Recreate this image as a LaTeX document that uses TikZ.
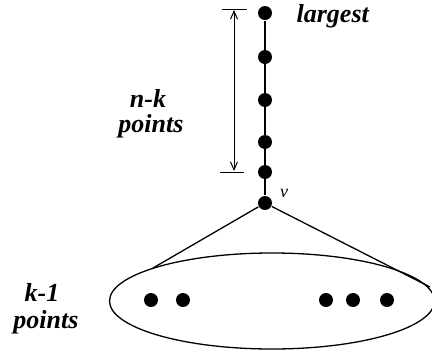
\documentclass[tikz,border=0pt]{standalone}
\usepackage{fontspec}
\setmainfont{Liberation Serif}
\usetikzlibrary{arrows.meta,shapes.geometric}
\begin{document}
\begin{tikzpicture}[x=1pt,y=-1pt,line width=1.3pt,
  dot/.style={circle,fill=black,inner sep=0pt,minimum size=14pt},
  lbl/.style={font=\fontsize{26}{26}\selectfont\bfseries\itshape,inner sep=0pt},
  bar/.style={line width=1pt},
  dim/.style={line width=1pt,{Straight Barb[length=8pt,width=7pt]}-{Straight Barb[length=8pt,width=7pt]}}]
\useasboundingbox (0,0) rectangle (432,354);
% chain
\node[dot] (d1) at (265,13) {};
\node[dot] (d2) at (265,57) {};
\node[dot] (d3) at (265,100) {};
\node[dot] (d4) at (265,142) {};
\node[dot] (d5) at (265,172) {};
\node[dot] (v) at (265,203) {};
\draw (d1) -- (v);
\node[font=\fontsize{18}{18}\selectfont\itshape,inner sep=0pt] (vl) at (284,193) {v};
\node[lbl,anchor=west] (lg) at (296,16) {largest};
% dimension
\coordinate (bt1) at (222,9);
\coordinate (bt2) at (247,9);
\coordinate (bb1) at (220,172);
\coordinate (bb2) at (244,172);
\draw[bar] (bt1) -- (bt2);
\draw[bar] (bb1) -- (bb2);
\coordinate (at) at (234,10);
\coordinate (ab) at (234,171);
\draw[dim] (at) -- (ab);
\node[lbl,anchor=base] (nk1) at (148,107) {n-k};
\node[lbl,anchor=base] (nk2) at (151,132) {points};
% ellipse
\node[draw,ellipse,minimum width=325pt,minimum height=96pt,inner sep=0pt] (E) at (272,301) {};
\coordinate (tl) at (153,268);
\coordinate (tr) at (430,287);
\draw (v) -- (tl);
\draw (v) -- (tr);
\node[dot] (e1) at (151,300) {};
\node[dot] (e2) at (183,300) {};
\node[dot] (e3) at (326,300) {};
\node[dot] (e4) at (353,300) {};
\node[dot] (e5) at (387,300) {};
\node[lbl,anchor=base] (k1a) at (42,301) {k-1};
\node[lbl,anchor=base] (k1b) at (46,328) {points};
\end{tikzpicture}
\end{document}
